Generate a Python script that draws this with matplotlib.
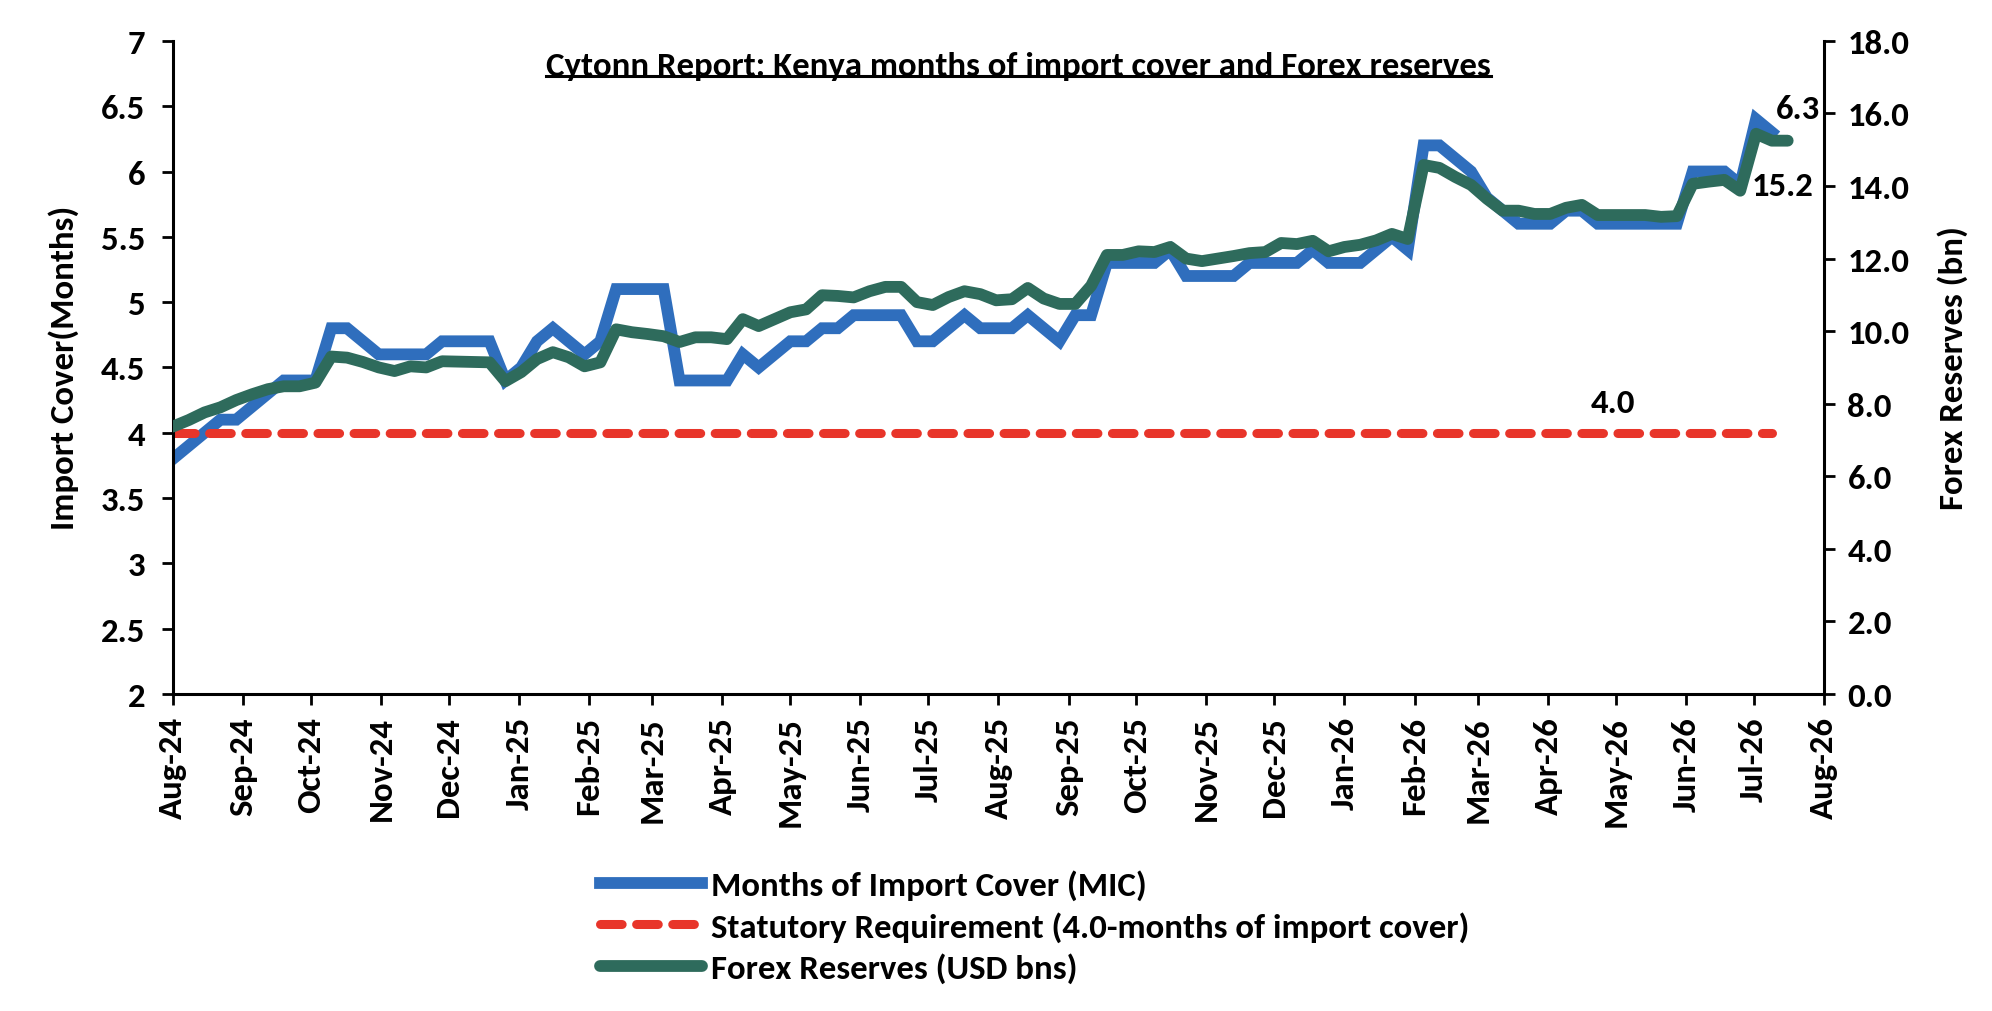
import matplotlib
matplotlib.use("Agg")
import matplotlib.pyplot as plt
import matplotlib.dates as mdates
from matplotlib import font_manager as fm
from matplotlib.lines import Line2D
import pandas as pd

# Weekly readings, first week of Aug-24 onwards
start_date = "2024-08-01"

mic = [3.8, 3.9, 4.0, 4.1, 4.1, 4.2, 4.3, 4.4, 4.4, 4.4,
       4.8, 4.8, 4.7, 4.6, 4.6, 4.6, 4.6, 4.7, 4.7, 4.7,
       4.7, 4.4, 4.5, 4.7, 4.8, 4.7, 4.6, 4.7, 5.1, 5.1,
       5.1, 5.1, 4.4, 4.4, 4.4, 4.4, 4.6, 4.5, 4.6, 4.7,
       4.7, 4.8, 4.8, 4.9, 4.9, 4.9, 4.9, 4.7, 4.7, 4.8,
       4.9, 4.8, 4.8, 4.8, 4.9, 4.8, 4.7, 4.9, 4.9, 5.3,
       5.3, 5.3, 5.3, 5.4, 5.2, 5.2, 5.2, 5.2, 5.3, 5.3,
       5.3, 5.3, 5.4, 5.3, 5.3, 5.3, 5.4, 5.5, 5.4, 6.2,
       6.2, 6.1, 6.0, 5.8, 5.7, 5.6, 5.6, 5.6, 5.7, 5.7,
       5.6, 5.6, 5.6, 5.6, 5.6, 5.6, 6.0, 6.0, 6.0, 5.9,
       6.4, 6.3]

forex = [7.37, 7.55, 7.76, 7.90, 8.10, 8.26, 8.40, 8.48, 8.48, 8.58,
         9.30, 9.27, 9.15, 9.00, 8.90, 9.03, 9.00, 9.17, 9.16, 9.15,
         9.14, 8.62, 8.87, 9.23, 9.42, 9.28, 9.03, 9.14, 10.05, 9.97,
         9.92, 9.86, 9.70, 9.83, 9.83, 9.78, 10.33, 10.14, 10.33, 10.52,
         10.60, 10.99, 10.97, 10.93, 11.10, 11.22, 11.22, 10.80, 10.72, 10.94,
         11.10, 11.02, 10.85, 10.88, 11.19, 10.90, 10.75, 10.75, 11.25, 12.10,
         12.10, 12.20, 12.18, 12.32, 12.00, 11.93, 12.00, 12.07, 12.15, 12.18,
         12.43, 12.40, 12.49, 12.20, 12.32, 12.38, 12.50, 12.68, 12.54, 14.58,
         14.50, 14.25, 14.03, 13.65, 13.32, 13.32, 13.23, 13.23, 13.40, 13.48,
         13.20, 13.20, 13.20, 13.20, 13.15, 13.17, 14.06, 14.12, 14.17, 13.87,
         15.44, 15.25, 15.25]

statutory = 4.0

title = "Cytonn Report: Kenya months of import cover and Forex reserves"
left_label = "Import Cover(Months)"
right_label = "Forex Reserves (bn)"
legend_labels = ["Months of Import Cover (MIC)",
                 "Statutory Requirement (4.0-months of import cover)",
                 "Forex Reserves (USD bns)"]

BLUE = "#2F6EBD"
RED = "#E8352A"
GREEN = "#2E6B5C"


def pick_bold_family(candidates):
    # first family that really has a bold face installed
    for name in candidates:
        for f in fm.fontManager.ttflist:
            w = f.weight if isinstance(f.weight, int) else 700 if "bold" in str(f.weight).lower() else 400
            if f.name == name and w >= 600 and f.style == "normal":
                return name
    return "DejaVu Sans"


family = pick_bold_family(["Carlito", "Lato", "Open Sans", "Noto Sans",
                           "Roboto", "Liberation Sans Narrow", "Liberation Sans"])
plt.rcParams["font.family"] = [family, "DejaVu Sans"]
plt.rcParams["font.weight"] = "bold"
FS = 25

dates_fx = pd.date_range(start_date, periods=len(forex), freq="7D")
dates_mic = dates_fx[:len(mic)]
stat_line = [statutory] * len(mic)

fig = plt.figure(figsize=(19.92, 10.12), dpi=100)
ax = fig.add_axes([0.0868, 0.3133, 0.8288, 0.6453])
ax2 = ax.twinx()

l1, = ax.plot(dates_mic, mic, color=BLUE, lw=8.5, solid_joinstyle="miter")
l2, = ax.plot(dates_mic, stat_line, color=RED, lw=6.5, linestyle=(0, (2.4, 1.6)),
              dash_capstyle="round")
l3, = ax2.plot(dates_fx, forex, color=GREEN, lw=8.5, solid_capstyle="round")

ax.set_ylim(2, 7)
ax.set_yticks([2, 2.5, 3, 3.5, 4, 4.5, 5, 5.5, 6, 6.5, 7])
ax.set_yticklabels(["2", "2.5", "3", "3.5", "4", "4.5", "5", "5.5", "6", "6.5", "7"])
ax2.set_ylim(0, 18)
ax2.set_yticks(range(0, 19, 2))
ax2.set_yticklabels([f"{v:.1f}" for v in range(0, 19, 2)])

ax.set_xlim(pd.Timestamp("2024-08-01"), pd.Timestamp("2026-08-01"))
ax.xaxis.set_major_locator(mdates.MonthLocator())
ax.xaxis.set_major_formatter(mdates.DateFormatter("%b-%y"))

for a in (ax, ax2):
    for s in a.spines.values():
        s.set_linewidth(2.2)
    a.spines["top"].set_visible(False)
ax.spines["right"].set_visible(False)
ax2.spines["left"].set_visible(False)
ax2.spines["bottom"].set_visible(False)

ax.tick_params(axis="y", direction="out", length=8, width=2, labelsize=FS, pad=12)
ax.tick_params(axis="x", direction="out", length=8, width=2, labelsize=FS, pad=8,
               labelrotation=90)
ax2.tick_params(axis="y", direction="out", length=8, width=2, labelsize=FS, pad=9)
for lab in ax.get_xticklabels() + ax.get_yticklabels() + ax2.get_yticklabels():
    lab.set_fontweight("bold")

fig.text(0.032, 0.636, left_label, rotation=90, ha="center", va="center",
         fontsize=FS, fontweight="bold")
fig.text(0.980, 0.636, right_label, rotation=90, ha="center", va="center",
         fontsize=FS, fontweight="bold")

# data labels
ax.annotate(f"{mic[-1]:.1f}", xy=(dates_mic[-1], mic[-1]), xytext=(19, 17),
            textcoords="offset points", ha="center", va="center",
            fontsize=FS, fontweight="bold")
ax2.annotate(f"{forex[-1]:.1f}", xy=(dates_fx[-1], forex[-1]), xytext=(-4, -32),
             textcoords="offset points", ha="center", va="center",
             fontsize=FS, fontweight="bold")
ax.annotate(f"{statutory:.1f}", xy=(dates_mic[91], statutory), xytext=(0, 22),
            textcoords="offset points", ha="center", va="center",
            fontsize=FS, fontweight="bold")

# underlined title
t = ax.text(0.512, 0.962, title, transform=ax.transAxes, ha="center", va="center",
            fontsize=FS, fontweight="bold")
fig.canvas.draw()
bb = t.get_window_extent().transformed(fig.transFigure.inverted())
fig.add_artist(Line2D([bb.x0, bb.x1], [bb.y0 + 0.004, bb.y0 + 0.004],
                      transform=fig.transFigure, color="black", lw=2.2))

fig.legend([l1, l2, l3], legend_labels, loc="upper left",
           bbox_to_anchor=(0.301, 0.140), frameon=False,
           handlelength=2.95, handletextpad=0.27, labelspacing=0.31,
           borderaxespad=0, borderpad=0, prop={"family": [family, "DejaVu Sans"],
                                               "weight": "bold", "size": FS})

fig.savefig("out.png", dpi=100)
